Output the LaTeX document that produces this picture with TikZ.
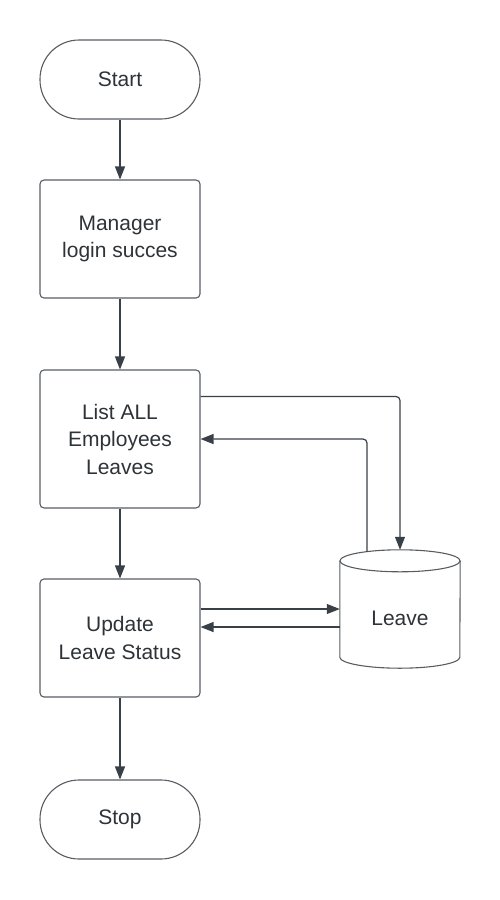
\documentclass[tikz,border=0pt]{standalone}
\usepackage{fontspec}
\setmainfont{Liberation Sans}
\usetikzlibrary{arrows.meta,calc}
\definecolor{ln}{HTML}{3A4048}
\definecolor{tx}{HTML}{2E3338}
\tikzset{
  shp/.style={draw=ln!85, line width=1.1pt, fill=white, text=tx, align=center,
    font=\fontsize{21}{27.5}\selectfont, minimum width=160pt, inner sep=0pt},
  proc/.style={shp, rounded corners=4pt},
  term/.style={shp, rounded corners=39pt, minimum height=79pt},
  arr/.style={draw=ln, line width=1.2pt, -{Triangle[length=13pt,width=10pt]}, rounded corners=4pt},
}
\begin{document}
\begin{tikzpicture}[x=1pt,y=-1pt]
\useasboundingbox (0,0) rectangle (500,900);
\node[term] (start) at (120,79.5) {Start};
\node[proc, minimum height=118pt] (mgr) at (120,239) {Manager\\login succes};
\node[proc, minimum height=138pt] (list) at (120,439) {List ALL\\Employees\\Leaves};
\node[proc, minimum height=118pt] (upd) at (120,638) {Update\\Leave Status};
\node[term] (stop) at (120,819.5) {Stop};
% Leave cylinder
\node[minimum width=120pt, minimum height=118pt, inner sep=0pt] (leave) at (400,609) {};
\draw[draw=ln!85, line width=1.1pt]
  ($(leave.north west)+(0,11)$) -- ($(leave.south west)+(0,-11)$)
  arc[start angle=180, end angle=360, x radius=60, y radius=-11]
  -- ($(leave.north east)+(0,11)$);
\draw[draw=ln!85, line width=1.1pt] ($(leave.north)+(0,11)$) ellipse[x radius=60, y radius=11];
\node[text=tx, font=\fontsize{21}{27.5}\selectfont, inner sep=0pt] (leavelbl) at ($(leave)+(0,9)$) {Leave};
% connectors
\draw[arr] (start) -- (mgr);
\draw[arr] (mgr) -- (list);
\draw[arr] (list) -- (upd);
\draw[arr] (upd) -- (stop);
\draw[arr] ($(list.north east)+(0,27)$) -| (leave.north);
\draw[arr] ($(leave.north)+(-33,2)$) |- (list.east);
\draw[arr] ($(upd.east)+(0,-29)$) -- ($(leave.west)+(0,0)$);
\draw[arr] ($(leave.west)+(0,18)$) -- ($(upd.east)+(0,-11)$);
\end{tikzpicture}
\end{document}
